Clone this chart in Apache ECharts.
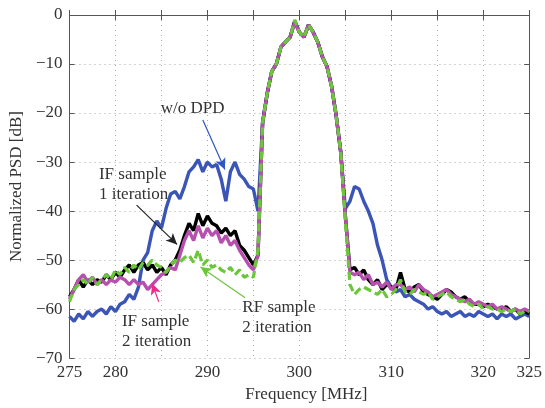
<!DOCTYPE html>
<html>
<head>
<meta charset="utf-8">
<script src="https://cdn.jsdelivr.net/npm/echarts@6/dist/echarts.min.js"></script>
<style>
html,body{margin:0;padding:0;background:#fff;}
#chart{width:545px;height:408px;}
</style>
</head>
<body>
<div id="chart"></div>
<script>
// Frequency grid [MHz]
const freq = [
  275,275.5,276,276.5,277,277.5,278,278.5,279,279.5,
  280,280.5,281,281.5,282,282.5,283,283.5,284,284.5,
  285,285.5,286,286.5,287,287.5,288,288.5,289,289.5,
  290,290.5,291,291.5,292,292.5,293,293.5,294,294.5,
  295,295.5,
  296,296.5,297,297.5,298,298.5,299,299.5,300,300.5,
  301,301.5,302,302.5,303,303.5,304,304.5,
  305,305.5,306,306.5,307,307.5,308,308.5,309,309.5,
  310,310.5,311,311.5,312,312.5,313,313.5,314,314.5,
  315,315.5,316,316.5,317,317.5,318,318.5,319,319.5,
  320,320.5,321,321.5,322,322.5,323,323.5,324,324.5,
  325
];

// w/o DPD (blue)
const woDPD = [
  -61.5,-62.5,-61,-62,-60.5,-61.5,-60.5,-60,-61,-59.5,
  -60.5,-59,-58.5,-57,-58,-55.5,-50,-48.5,-44,-42,
  -43.5,-39.5,-36.5,-36,-37.5,-35,-32,-31,-29.5,-32,
  -30,-31,-30.5,-33.5,-38,-32,-30,-32.5,-33.5,-35,
  -35.5,-40,
  -22,-16,-11.5,-10,-6.5,-5.5,-4.5,-1.2,-3.5,-4.5,
  -2,-3.5,-5.5,-8.5,-10.5,-14.5,-20.5,-28,
  -39.5,-38,-35,-35.5,-38,-40,-42.5,-47,-50,-54,
  -55.5,-56.5,-56,-57.5,-57,-58,-58.5,-59,-60,-59.5,
  -60.5,-61,-60.5,-61.5,-61,-60.5,-61.5,-61,-61.5,-60.5,
  -61,-61.5,-61,-62,-61,-61.5,-61,-62,-61.5,-61,
  -61.5
];

// IF sample, 1 iteration (black)
const if1 = [
  -57.5,-56,-54,-55.5,-54,-55,-54,-54.5,-53,-54,
  -52.5,-53.5,-52,-51,-52.5,-51,-50.5,-52,-51,-52.5,
  -51.5,-53,-51,-50,-48,-45,-42.5,-44,-40.5,-43,
  -41,-42.5,-43,-44.5,-43.5,-45,-44,-47,-48,-49.5,
  -51,-49,
  -22,-16,-11.5,-10,-6.5,-5.5,-4.5,-1.3,-3.5,-4.5,
  -2,-3.5,-5.5,-8.5,-10.5,-14.5,-20.5,-28,
  -41,-52,-51.5,-53,-52,-54,-55,-54,-56,-55,
  -55.5,-56,-52.5,-56,-56.5,-55.5,-55,-56.5,-57,-57.5,
  -58,-57,-56,-56.5,-57.5,-58,-57.5,-58.5,-59,-59,
  -59.5,-59,-59.5,-60,-60,-59.5,-60.5,-60,-61,-60.5,
  -61
];

// IF sample, 2 iteration (magenta)
const if2 = [
  -58,-56,-54,-53,-54.5,-53.5,-55,-54,-55,-54,
  -54.5,-53.5,-54,-55,-54,-55,-54.5,-56,-55,-54,
  -53,-52.5,-51.5,-52,-49,-46,-44,-46,-43,-45.5,
  -43.5,-45,-44,-46.5,-45,-47,-46,-48,-49.5,-51,
  -52,-49,
  -22,-16,-11.5,-10,-6.5,-5.5,-4.5,-1.5,-3.5,-4.5,
  -2,-3.5,-5.5,-8.5,-10.5,-14.5,-20.5,-28,
  -41,-52.5,-53,-52.5,-54,-53,-55,-54.5,-55.5,-54.5,
  -56,-55,-55,-56,-55.5,-56.5,-55,-56,-56.5,-57.5,
  -57,-56.5,-56,-57,-57.5,-58,-58.5,-58,-59,-58.5,
  -59,-59.5,-59,-60,-59.5,-60,-60.5,-60,-60.5,-60,
  -60.5
];

// RF sample, 2 iteration (green dashed)
const rf2 = [
  -58.5,-56,-55,-54,-55,-53.5,-55,-54,-53,-54,
  -52,-53,-51.5,-52.5,-51,-52,-50.5,-51,-50,-51,
  -51.5,-52.5,-51,-50,-50.5,-49.5,-49,-50.5,-48,-51,
  -50,-51.5,-51,-52,-52.5,-51.5,-53,-52,-53.5,-53,
  -53.5,-48,
  -22,-16,-11.5,-10,-6.5,-5.5,-4.5,-1,-3.5,-4.5,
  -2,-3.5,-5.5,-8.5,-10.5,-14.5,-20.5,-28,
  -42,-55,-57,-56,-55.5,-56,-56.5,-57,-56,-57.5,
  -57,-56,-54,-56.5,-57,-56,-56.5,-57,-56.5,-58,
  -57.5,-57,-56.5,-57.5,-58,-58.5,-58,-59,-59.5,-59,
  -60,-59.5,-60,-60,-60.5,-60,-60.5,-60,-61,-60.5,
  -60.5
];

const xTicks = [275, 280, 290, 300, 310, 320, 325];

const pair = (ys) => freq.map((f, i) => [f, ys[i]]);
const SERIF = '"Liberation Serif","DejaVu Serif",serif';
const minus = (v) => (v < 0 ? '\u2212' + (-v) : String(v));

const chart = echarts.init(document.getElementById('chart'), null, {renderer: 'canvas'});

const axisLineStyle = {lineStyle: {color: '#555', width: 1}};
const tickStyle = {show: true, inside: true, length: 5, lineStyle: {color: '#555'}};

function arrow(x1, y1, x2, y2, color) {
  return [
    {coord: [x1, y1], symbol: 'none', lineStyle: {color: color, width: 1.2, type: 'solid'}},
    {coord: [x2, y2], symbol: 'arrow'}
  ];
}

chart.setOption({
  animation: false,
  backgroundColor: '#fff',
  grid: {left: 62, right: 11, top: 15, bottom: 41},
  xAxis: [{
    type: 'value', min: 275, max: 325, interval: 5,
    axisLine: axisLineStyle, axisTick: tickStyle,
    axisLabel: {
      color: '#333', fontFamily: SERIF, fontSize: 17, margin: 6,
      formatter: (v) => (xTicks.indexOf(v) >= 0 ? String(v) : '')
    },
    splitLine: {show: true, lineStyle: {color: '#aaa', type: [1, 4], width: 1}},
    name: 'Frequency [MHz]', nameLocation: 'middle', nameGap: 25,
    nameTextStyle: {color: '#333', fontFamily: SERIF, fontSize: 17, padding: [0, 0, 0, 14]}
  }, {
    type: 'value', position: 'top', min: 275, max: 325, interval: 5,
    axisLine: axisLineStyle, axisTick: tickStyle, axisLabel: {show: false}, splitLine: {show: false}
  }],
  yAxis: [{
    type: 'value', min: -70, max: 0, interval: 10,
    axisLine: axisLineStyle, axisTick: tickStyle,
    axisLabel: {color: '#333', fontFamily: SERIF, fontSize: 17, margin: 7, formatter: minus},
    splitLine: {show: true, lineStyle: {color: '#aaa', type: [1, 4], width: 1}},
    name: 'Normalized PSD [dB]', nameLocation: 'middle', nameGap: 30,
    nameTextStyle: {color: '#333', fontFamily: SERIF, fontSize: 17}
  }, {
    type: 'value', position: 'right', min: -70, max: 0, interval: 10,
    axisLine: axisLineStyle, axisTick: tickStyle, axisLabel: {show: false}, splitLine: {show: false}
  }],
  series: [
    {name: 'w/o DPD', type: 'line', data: pair(woDPD), showSymbol: false,
     lineStyle: {color: '#3a55b5', width: 3.4}, z: 2},
    {name: 'IF sample 1 iteration', type: 'line', data: pair(if1), showSymbol: false,
     lineStyle: {color: '#000', width: 3.4}, z: 3},
    {name: 'IF sample 2 iteration', type: 'line', data: pair(if2), showSymbol: false,
     lineStyle: {color: '#b64fae', width: 3.4}, z: 4},
    {name: 'RF sample 2 iteration', type: 'line', data: pair(rf2), showSymbol: false,
     lineStyle: {color: '#6cc63a', width: 3.2, type: [8, 4]}, z: 5,
     markLine: {
       silent: true, symbolSize: [8, 11], label: {show: false}, animation: false,
       data: [
         arrow(289.5, -21.4, 291.9, -31.5, '#2f55c0'),
         arrow(282.3, -38.8, 286.7, -46.8, '#222'),
         arrow(284.7, -58.5, 284.0, -54.8, '#ee2a8a'),
         arrow(294.1, -57.7, 289.25, -51.4, '#6cc63a')
       ]
     }}
  ]
});

// annotation texts anchored in data coordinates
const notes = [
  {x: 288.4, y: -19.1, text: 'w/o DPD', align: 'center'},
  {x: 278.2, y: -32.5, text: 'IF sample', align: 'left'},
  {x: 278.2, y: -36.6, text: '1 iteration', align: 'left'},
  {x: 280.7, y: -62.5, text: 'IF sample', align: 'left'},
  {x: 280.7, y: -66.6, text: '2 iteration', align: 'left'},
  {x: 293.8, y: -59.7, text: 'RF sample', align: 'left'},
  {x: 293.8, y: -63.7, text: '2 iteration', align: 'left'}
];
chart.setOption({
  graphic: notes.map((n) => {
    const p = chart.convertToPixel({xAxisIndex: 0, yAxisIndex: 0}, [n.x, n.y]);
    return {
      type: 'text', x: p[0], y: p[1], z: 100,
      style: {text: n.text, fill: '#333', font: '17px ' + SERIF,
               textAlign: n.align, textVerticalAlign: 'middle'}
    };
  })
});
</script>
</body>
</html>
